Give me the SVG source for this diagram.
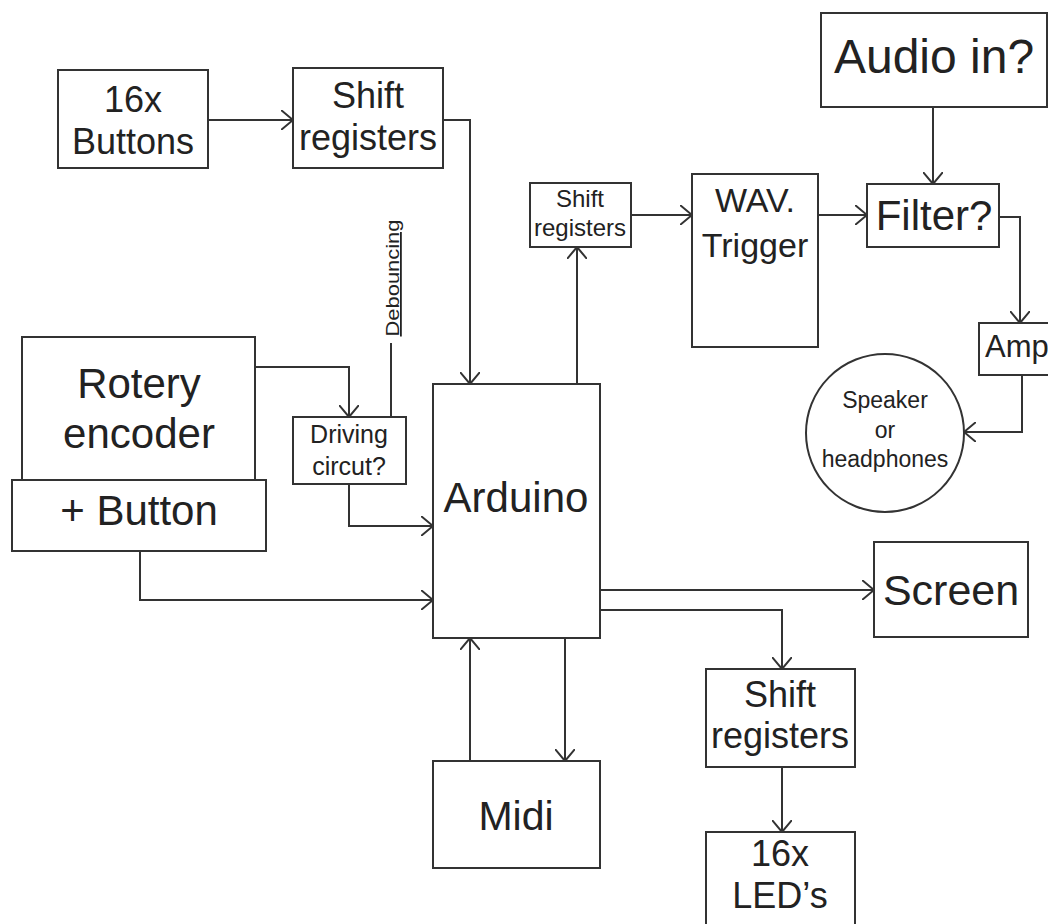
<svg xmlns="http://www.w3.org/2000/svg" width="1048" height="924" viewBox="0 0 1048 924">
<defs>
<marker id="arr" viewBox="0 0 12 20" refX="12" refY="10" markerWidth="12" markerHeight="20" markerUnits="userSpaceOnUse" orient="auto">
<path d="M0,0 L12,10 L0,20" fill="none" stroke="#333" stroke-width="2"/>
</marker>
<style>
.b{fill:#fff;stroke:#333;stroke-width:2}
.t{font-family:"Liberation Sans",Arial,sans-serif;fill:#222;text-anchor:middle}
.c{fill:none;stroke:#333;stroke-width:2}
.a{marker-end:url(#arr)}
</style>
</defs>
<rect width="1048" height="924" fill="#fff"/>
<g id="connectors">
<path class="c a" d="M208,120 H293"/>
<path class="c a" d="M443,120 H470 V384"/>
<path class="c a" d="M577,384 V247"/>
<path class="c a" d="M631,215 H692"/>
<path class="c a" d="M818,215 H867"/>
<path class="c a" d="M933,107 V184"/>
<path class="c a" d="M999,217 H1020 V323"/>
<path class="c a" d="M1022,375 V432 H964"/>
<path class="c a" d="M255,367 H349 V417"/>
<path class="c" d="M391,343 V417"/>
<path class="c a" d="M349,484 V526 H433"/>
<path class="c a" d="M140,551 V600 H433"/>
<path class="c a" d="M600,590 H874"/>
<path class="c a" d="M600,610 H782 V669"/>
<path class="c a" d="M782,767 V832"/>
<path class="c a" d="M470,761 V638"/>
<path class="c a" d="M565,638 V761"/>
</g>
<g id="buttons16">
<rect class="b" x="58" y="70" width="150" height="98"/>
<text class="t" x="133" y="112" font-size="36">16x</text>
<text class="t" x="133" y="154" font-size="36">Buttons</text>
</g>
<g id="shift1">
<rect class="b" x="293" y="68" width="150" height="100"/>
<text class="t" x="368" y="108" font-size="36">Shift</text>
<text class="t" x="368" y="150" font-size="36">registers</text>
</g>
<g id="shift2">
<rect class="b" x="530" y="183" width="101" height="64"/>
<text class="t" x="580" y="207" font-size="24">Shift</text>
<text class="t" x="580" y="236" font-size="24">registers</text>
</g>
<g id="wav">
<rect class="b" x="692" y="174" width="126" height="173"/>
<text class="t" x="755" y="212" font-size="34">WAV.</text>
<text class="t" x="755" y="257" font-size="34">Trigger</text>
</g>
<g id="audio">
<rect class="b" x="821" y="13" width="226" height="94"/>
<text class="t" x="934" y="73" font-size="48">Audio in?</text>
</g>
<g id="filter">
<rect class="b" x="867" y="184" width="132" height="63"/>
<text class="t" x="934" y="230" font-size="42">Filter?</text>
</g>
<g id="amp">
<rect class="b" x="979" y="323" width="80" height="52"/>
<text class="t" x="985" y="357" font-size="31" style="text-anchor:start">Amp</text>
</g>
<g id="speaker">
<circle class="b" cx="885" cy="433" r="79"/>
<text class="t" x="885" y="408" font-size="23">Speaker</text>
<text class="t" x="885" y="438" font-size="23">or</text>
<text class="t" x="885" y="467" font-size="23">headphones</text>
</g>
<g id="rotary">
<rect class="b" x="22" y="337" width="233" height="143"/>
<text class="t" x="139" y="398" font-size="42">Rotery</text>
<text class="t" x="139" y="448" font-size="42">encoder</text>
</g>
<g id="button">
<rect class="b" x="12" y="480" width="254" height="71"/>
<text class="t" x="139" y="525" font-size="42">+ Button</text>
</g>
<g id="driving">
<rect class="b" x="293" y="417" width="113" height="67"/>
<text class="t" x="349" y="443" font-size="25">Driving</text>
<text class="t" x="349" y="475" font-size="25">circut?</text>
</g>
<g id="debouncing">
<text class="t" transform="translate(399,278) rotate(-90)" font-size="18" text-decoration="underline" textLength="117" lengthAdjust="spacingAndGlyphs">Debouncing</text>
</g>
<g id="arduino">
<rect class="b" x="433" y="384" width="167" height="254"/>
<text class="t" x="516" y="512" font-size="42">Arduino</text>
</g>
<g id="midi">
<rect class="b" x="433" y="761" width="167" height="107"/>
<text class="t" x="516" y="830" font-size="41">Midi</text>
</g>
<g id="screen">
<rect class="b" x="874" y="542" width="154" height="95"/>
<text class="t" x="951" y="605" font-size="43">Screen</text>
</g>
<g id="shift3">
<rect class="b" x="706" y="669" width="149" height="98"/>
<text class="t" x="780" y="707" font-size="36">Shift</text>
<text class="t" x="780" y="748" font-size="36">registers</text>
</g>
<g id="leds">
<rect class="b" x="706" y="832" width="149" height="100"/>
<text class="t" x="780" y="866" font-size="36">16x</text>
<text class="t" x="780" y="908" font-size="36">LED’s</text>
</g>
</svg>
